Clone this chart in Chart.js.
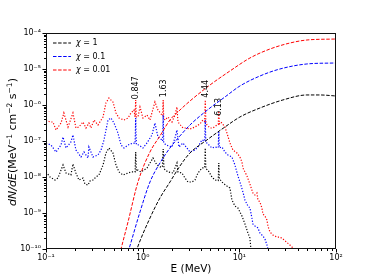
<!DOCTYPE html>
<html><head><meta charset="utf-8">
<script src="https://cdn.jsdelivr.net/npm/chart.js@4.4.0/dist/chart.umd.min.js"></script>
<style>html,body{margin:0;padding:0;background:#fff;}canvas{display:block;}</style>
</head><body>
<canvas id="c" width="374" height="280"></canvas>
<script>
// ---------- tick labels ----------
const energyTicks = [0.1, 1, 10, 100];
const energyTickLabels = ['10⁻¹', '10⁰', '10¹', '10²'];
const fluxTicks = [1e-10, 1e-9, 1e-8, 1e-7, 1e-6, 1e-5, 1e-4];
const fluxTickLabels = ['10⁻¹⁰', '10⁻⁹', '10⁻⁸', '10⁻⁷', '10⁻⁶', '10⁻⁵', '10⁻⁴'];

// ---------- legend ----------
const chiLabels = ['1', '0.1', '0.01'];

// ---------- smooth (dashed) components ----------
const chi1ContE = [0.794, 0.873, 1.190, 1.509, 1.916, 2.430, 3.084, 4.624, 7.098, 10.14, 16.33, 28.24, 50.02, 68.17, 100];
const chi1Cont = [4.4e-11, 1.0e-10, 7.26e-10, 2.61e-9, 7.26e-9, 2.02e-8, 4.64e-8, 1.07e-7, 2.45e-7, 4.64e-7, 8.25e-7, 1.38e-6, 1.90e-6, 1.90e-6, 1.78e-6];

const chi01ContE = [0.656, 0.722, 0.938, 1.190, 1.509, 1.916, 2.430, 3.084, 4.966, 7.098, 10.14, 16.33, 26.29, 50.02, 100];
const chi01Cont = [4.4e-11, 1.0e-10, 1.07e-9, 7.26e-9, 2.45e-8, 6.39e-8, 1.38e-7, 2.78e-7, 8.25e-7, 1.67e-6, 3.37e-6, 6.39e-6, 1.0e-5, 1.38e-5, 1.47e-5];

const chi001ContE = [0.542, 0.597, 0.705, 0.894, 1.190, 1.509, 1.916, 2.430, 3.084, 4.966, 7.995, 12.87, 20.73, 33.37, 50.02, 100];
const chi001Cont = [3.6e-11, 1.0e-10, 5.62e-10, 7.26e-9, 4.95e-8, 1.38e-7, 3.83e-7, 7.26e-7, 1.29e-6, 3.59e-6, 8.80e-6, 2.02e-5, 3.59e-5, 5.27e-5, 6.39e-5, 6.81e-5];

// ---------- line (dotted) spectra ----------
const chi1LineE = [0.100, 0.110, 0.124, 0.133, 0.150, 0.161, 0.181, 0.190, 0.204, 0.219, 0.241, 0.253, 0.272, 0.285, 0.306, 0.329, 0.353, 0.389, 0.417, 0.448, 0.493, 0.530, 0.569, 0.626, 0.705, 0.757, 0.835, 0.847, 0.860, 0.894, 0.960, 1.031, 1.108, 1.190, 1.278, 1.405, 1.509, 1.600, 1.630, 1.660, 1.827, 2.058, 2.263, 2.317, 2.549, 2.738, 2.941, 3.235, 3.474, 3.731, 4.104, 4.380, 4.440, 4.500, 4.735, 5.207, 5.594, 6.050, 6.130, 6.210, 6.767, 7.444, 7.995, 8.386, 9.006, 9.672, 10.64, 11.43, 11.99, 12.27, 12.87, 13.18, 13.50];
const chi1Line = [1.38e-8, 1.0e-8, 8.25e-9, 9.38e-9, 2.15e-8, 1.29e-8, 1.14e-8, 2.30e-8, 1.29e-8, 8.25e-9, 9.38e-9, 6.39e-9, 5.99e-9, 7.74e-9, 8.25e-9, 1.0e-8, 1.14e-8, 2.15e-8, 4.64e-8, 6.39e-8, 4.64e-8, 2.15e-8, 1.38e-8, 1.14e-8, 1.29e-8, 1.38e-8, 1.38e-8, 4.95e-8, 1.45e-8, 1.56e-8, 1.38e-8, 1.56e-8, 1.78e-8, 2.45e-8, 3.37e-8, 2.15e-8, 1.90e-8, 1.9e-8, 5.99e-8, 1.7e-8, 1.38e-8, 1.29e-8, 2.45e-8, 1.38e-8, 1.29e-8, 9.38e-9, 7.26e-9, 7.26e-9, 8.25e-9, 1.29e-8, 1.78e-8, 1.8e-8, 6.39e-8, 1.7e-8, 1.56e-8, 1.0e-8, 8.25e-9, 8.0e-9, 2.45e-8, 9.0e-9, 6.81e-9, 5.62e-9, 4.95e-9, 2.30e-9, 1.56e-9, 1.38e-9, 8.25e-10, 4.95e-10, 3.37e-10, 2.78e-10, 2.02e-10, 1.0e-10, 6.81e-11];

const chi01LineE = [0.100, 0.1126, 0.127, 0.143, 0.150, 0.161, 0.181, 0.190, 0.204, 0.230, 0.247, 0.272, 0.278, 0.306, 0.345, 0.371, 0.398, 0.438, 0.470, 0.505, 0.555, 0.597, 0.641, 0.705, 0.794, 0.835, 0.847, 0.860, 0.916, 1.007, 1.108, 1.248, 1.340, 1.439, 1.583, 1.610, 1.630, 1.650, 1.742, 2.009, 2.158, 2.263, 2.373, 2.611, 2.872, 3.084, 3.474, 3.731, 4.104, 4.380, 4.440, 4.500, 4.624, 5.207, 5.594, 6.050, 6.130, 6.210, 6.608, 7.098, 7.623, 8.386, 9.006, 9.672, 10.14, 10.90, 11.43, 12.27, 12.87, 13.50, 13.82, 14.50, 15.21, 15.57, 16.33, 17.54, 18.40, 19.30, 19.76, 20.73];
const chi01Line = [8.80e-8, 7.74e-8, 4.95e-8, 7.74e-8, 1.29e-7, 6.39e-8, 9.38e-8, 1.47e-7, 5.62e-8, 3.59e-8, 4.95e-8, 3.37e-8, 6.81e-8, 3.59e-8, 4.08e-8, 5.62e-8, 1.07e-7, 3.83e-7, 4.35e-7, 3.16e-7, 1.67e-7, 7.74e-8, 6.39e-8, 7.74e-8, 8.80e-8, 8.5e-8, 4.35e-7, 8.0e-8, 7.74e-8, 6.39e-8, 8.80e-8, 1.47e-7, 3.16e-7, 1.29e-7, 1.07e-7, 1.0e-7, 5.27e-7, 9.0e-8, 7.74e-8, 6.81e-8, 1.21e-7, 2.02e-7, 6.81e-8, 8.80e-8, 6.39e-8, 4.95e-8, 5.62e-8, 6.81e-8, 1.07e-7, 1.0e-7, 3.83e-7, 9.0e-8, 8.80e-8, 6.39e-8, 6.81e-8, 6.5e-8, 1.78e-7, 6.5e-8, 6.81e-8, 4.95e-8, 4.08e-8, 3.59e-8, 2.15e-8, 1.07e-8, 7.26e-9, 3.83e-9, 2.30e-9, 1.56e-9, 1.38e-9, 7.26e-10, 4.95e-10, 4.35e-10, 4.08e-10, 3.83e-10, 2.78e-10, 2.30e-10, 1.90e-10, 1.29e-10, 1.0e-10, 7.26e-11];

const chi001LineE = [0.100, 0.110, 0.118, 0.127, 0.143, 0.153, 0.169, 0.190, 0.204, 0.219, 0.241, 0.259, 0.278, 0.292, 0.314, 0.345, 0.389, 0.417, 0.448, 0.493, 0.530, 0.569, 0.641, 0.705, 0.757, 0.813, 0.835, 0.847, 0.860, 0.894, 0.938, 1.007, 1.108, 1.190, 1.278, 1.340, 1.439, 1.583, 1.610, 1.630, 1.650, 1.701, 1.827, 2.009, 2.158, 2.263, 2.317, 2.611, 2.804, 3.084, 3.474, 3.913, 4.204, 4.380, 4.440, 4.500, 4.624, 4.966, 5.333, 5.866, 6.050, 6.130, 6.210, 6.453, 7.098, 7.444, 7.995, 8.587, 9.445, 10.14, 10.64, 10.90, 11.99, 12.87, 13.82, 14.50, 15.21, 15.57, 16.33, 17.13, 17.54, 18.40, 19.30, 19.76, 20.73, 22.26, 24.48, 26.29, 28.24, 33.37, 36.70, 39.42];
const chi001Line = [3.83e-7, 3.37e-7, 3.37e-7, 2.02e-7, 3.16e-7, 5.99e-7, 2.45e-7, 5.99e-7, 2.30e-7, 2.45e-7, 3.37e-7, 2.30e-7, 3.16e-7, 2.30e-7, 3.83e-7, 2.78e-7, 4.64e-7, 1.14e-6, 1.56e-6, 1.21e-6, 5.99e-7, 4.35e-7, 3.83e-7, 4.35e-7, 5.99e-7, 7.26e-7, 4.64e-7, 1.38e-6, 4.64e-7, 4.64e-7, 8.80e-7, 4.35e-7, 5.27e-7, 3.83e-7, 7.74e-7, 1.21e-6, 7.26e-7, 5.27e-7, 5.0e-7, 1.38e-6, 4.5e-7, 3.83e-7, 4.64e-7, 3.37e-7, 5.27e-7, 8.80e-7, 3.37e-7, 2.30e-7, 2.30e-7, 2.15e-7, 2.45e-7, 2.97e-7, 3.83e-7, 3.5e-7, 1.38e-6, 3.5e-7, 2.78e-7, 2.30e-7, 2.30e-7, 2.78e-7, 2.9e-7, 6.81e-7, 3.0e-7, 3.37e-7, 2.45e-7, 1.67e-7, 8.80e-8, 5.62e-8, 4.64e-8, 3.59e-8, 2.61e-8, 1.78e-8, 1.07e-8, 6.39e-9, 3.59e-9, 3.16e-9, 3.59e-9, 2.30e-9, 2.02e-9, 1.38e-9, 9.38e-10, 8.25e-10, 6.39e-10, 4.35e-10, 2.97e-10, 2.45e-10, 2.15e-10, 2.15e-10, 1.90e-10, 1.29e-10, 1.0e-10, 8.0e-11];

// ---------- gamma-line annotations ----------
const peakLabels = ['0.847', '1.63', '4.44', '6.13'];
const peakEnergies = [0.847, 1.63, 4.44, 6.13];
const peakLabelFlux = [1.45e-6, 1.65e-6, 1.6e-6, 5.0e-7];

const colors = ['#000000', '#0000ff', '#ff0000'];
const pts = (xs, ys) => xs.map((x, i) => ({x: x, y: ys[i]}));
const dashed = (data, c) => ({data, borderColor: c, borderWidth: 1, borderDash: [3.5, 1.6], pointRadius: 0, fill: false, cubicInterpolationMode: 'monotone'});
const dotted = (data, c) => ({data, borderColor: c, borderWidth: 1.2, borderDash: [1.2, 1.7], pointRadius: 0, fill: false, tension: 0});

const datasets = [
  dashed(pts(chi1ContE, chi1Cont), colors[0]),
  dashed(pts(chi01ContE, chi01Cont), colors[1]),
  dashed(pts(chi001ContE, chi001Cont), colors[2]),
  dotted(pts(chi1LineE, chi1Line), colors[0]),
  dotted(pts(chi01LineE, chi01Line), colors[1]),
  dotted(pts(chi001LineE, chi001Line), colors[2])
];

const FONT = 'DejaVu Sans';

const decor = {
  id: 'decor',
  afterDatasetsDraw(chart) {
    const {ctx, chartArea: a, scales: {x, y}} = chart;
    ctx.save();
    ctx.setLineDash([]);
    ctx.strokeStyle = '#000';
    ctx.lineWidth = 1;
    // tick marks (major + minor)
    ctx.beginPath();
    for (let e = -1; e <= 2; e++) {
      for (let k = 1; k <= 9; k++) {
        const v = k * Math.pow(10, e);
        if (v > 100.0001) break;
        const px = Math.round(x.getPixelForValue(v)) + 0.5;
        const L = k === 1 ? 3.5 : 2;
        ctx.moveTo(px, a.bottom); ctx.lineTo(px, a.bottom + L);
      }
    }
    for (let e = -10; e <= -4; e++) {
      for (let k = 1; k <= 9; k++) {
        const v = k * Math.pow(10, e);
        if (e === -4 && k > 1) break;
        const py = Math.round(y.getPixelForValue(v)) + 0.5;
        const L = k === 1 ? 3.5 : 2;
        ctx.moveTo(a.left, py); ctx.lineTo(a.left - L, py);
      }
    }
    ctx.stroke();
    // frame
    ctx.strokeStyle = '#111';
    ctx.strokeRect(a.left + 0.5, a.top + 0.5, a.right - a.left - 1, a.bottom - a.top - 1);

    // peak labels (rotated)
    ctx.fillStyle = '#000';
    ctx.font = '8px "' + FONT + '"';
    ctx.textAlign = 'left';
    ctx.textBaseline = 'middle';
    peakLabels.forEach((t, i) => {
      const px = x.getPixelForValue(peakEnergies[i]);
      const py = y.getPixelForValue(peakLabelFlux[i]);
      ctx.save();
      ctx.translate(px + 0.5, py);
      ctx.rotate(-Math.PI / 2);
      ctx.fillText(t, 0, 0);
      ctx.restore();
    });

    // legend
    chiLabels.forEach((lab, i) => {
      const ly = a.top + 10 + i * 13.5;
      ctx.strokeStyle = colors[i];
      ctx.lineWidth = 1;
      ctx.setLineDash([3.5, 1.6]);
      ctx.beginPath();
      ctx.moveTo(a.left + 7, ly); ctx.lineTo(a.left + 25, ly);
      ctx.stroke();
      ctx.setLineDash([]);
      ctx.fillStyle = '#000';
      ctx.textBaseline = 'middle';
      ctx.textAlign = 'left';
      let tx = a.left + 30;
      ctx.font = 'italic 8px "' + FONT + '"';
      ctx.fillText('χ', tx, ly);
      tx += ctx.measureText('χ').width;
      ctx.font = '8px "' + FONT + '"';
      ctx.fillText(' = ' + lab, tx, ly);
    });

    // y-axis title
    const parts = [
      {t: 'dN/dE', it: true}, {t: '(MeV'}, {t: '−1', sup: true}, {t: ' cm'},
      {t: '−2', sup: true}, {t: ' s'}, {t: '−1', sup: true}, {t: ')'}
    ];
    const fontOf = p => (p.it ? 'italic ' : '') + (p.sup ? '7.5px' : '11px') + ' "' + FONT + '"';
    let total = 0;
    parts.forEach(p => { ctx.font = fontOf(p); p.w = ctx.measureText(p.t).width; total += p.w; });
    ctx.save();
    ctx.translate(12, (a.top + a.bottom) / 2 + 1);
    ctx.rotate(-Math.PI / 2);
    ctx.textAlign = 'left';
    ctx.textBaseline = 'alphabetic';
    let cx = -total / 2;
    parts.forEach(p => {
      ctx.font = fontOf(p);
      ctx.fillText(p.t, cx, p.sup ? 0 : 4);
      cx += p.w;
    });
    ctx.restore();
    ctx.restore();
  }
};

new Chart(document.getElementById('c'), {
  type: 'line',
  data: {datasets},
  options: {
    responsive: false,
    animation: false,
    devicePixelRatio: 1,
    parsing: true,
    layout: {padding: {top: 33, right: 38, left: 0, bottom: 0}},
    plugins: {legend: {display: false}, tooltip: {enabled: false}},
    scales: {
      x: {
        type: 'logarithmic', min: 0.1, max: 100, position: 'bottom',
        afterBuildTicks: s => { s.ticks = energyTicks.map(v => ({value: v, major: true})); },
        afterFit: s => { s.height = 31; },
        grid: {display: false, drawTicks: false},
        border: {display: false},
        ticks: {autoSkip: false, maxRotation: 0, minRotation: 0, padding: 4, color: '#000',
          font: {family: FONT, size: 8}, callback: (v, i) => energyTickLabels[i]},
        title: {display: true, text: 'E (MeV)', color: '#000', font: {family: FONT, size: 10.5}, padding: {top: 0, bottom: 4}}
      },
      y: {
        type: 'logarithmic', min: 1e-10, max: 1e-4, position: 'left',
        afterBuildTicks: s => { s.ticks = fluxTicks.map(v => ({value: v, major: true})); },
        afterFit: s => { s.width = 46; },
        grid: {display: false, drawTicks: false},
        border: {display: false},
        ticks: {autoSkip: false, padding: 5, color: '#000',
          font: {family: FONT, size: 8}, callback: (v, i) => fluxTickLabels[i]}
      }
    }
  },
  plugins: [decor]
});
</script>
</body></html>
